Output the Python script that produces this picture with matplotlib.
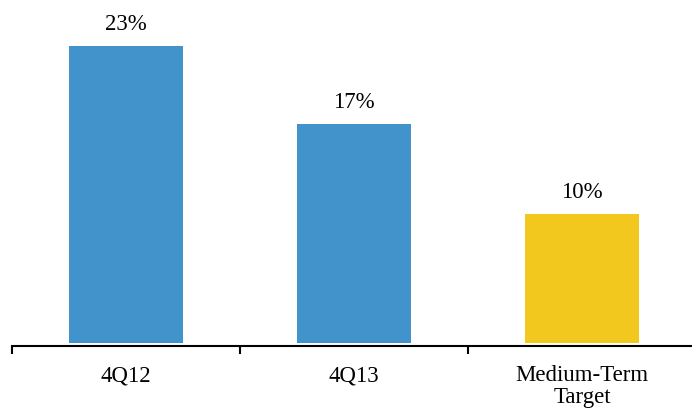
import numpy as np
import matplotlib.pyplot as plt

categories = ['4Q12', '4Q13', 'Medium-Term\nTarget']
values = [23, 17, 10]
labels = ['23%', '17%', '10%']
colors = ['#4292CB', '#4292CB', '#F2C81E']

plt.rcParams['font.family'] = ['Liberation Serif', 'DejaVu Serif']

fig = plt.figure(figsize=(6.92, 4.08), dpi=100)
ax = fig.add_axes([12 / 692, 1 - 346 / 408, 684 / 692, 346 / 408])

x = np.arange(len(categories))
ax.bar(x, values, width=0.5, color=colors)
for xi, v, lab in zip(x, values, labels):
    ax.text(xi, v + 0.85, lab, ha='center', va='bottom', fontsize=16.5)

ax.set_xlim(-0.5, 2.5)
ax.set_ylim(-0.23, 26.6)
ax.set_xticks(x)
ax.set_xticklabels(categories, fontsize=16.5, linespacing=1.05)
ax.set_xticks([-0.5, 0.5, 1.5, 2.5], minor=True)
ax.tick_params(axis='x', which='major', length=0, pad=14)
ax.tick_params(axis='x', which='minor', length=6, width=1.5, direction='out')
ax.set_yticks([])
for s in ['top', 'right', 'left']:
    ax.spines[s].set_visible(False)
ax.spines['bottom'].set_linewidth(1.5)

fig.savefig('out.png', dpi=100)
